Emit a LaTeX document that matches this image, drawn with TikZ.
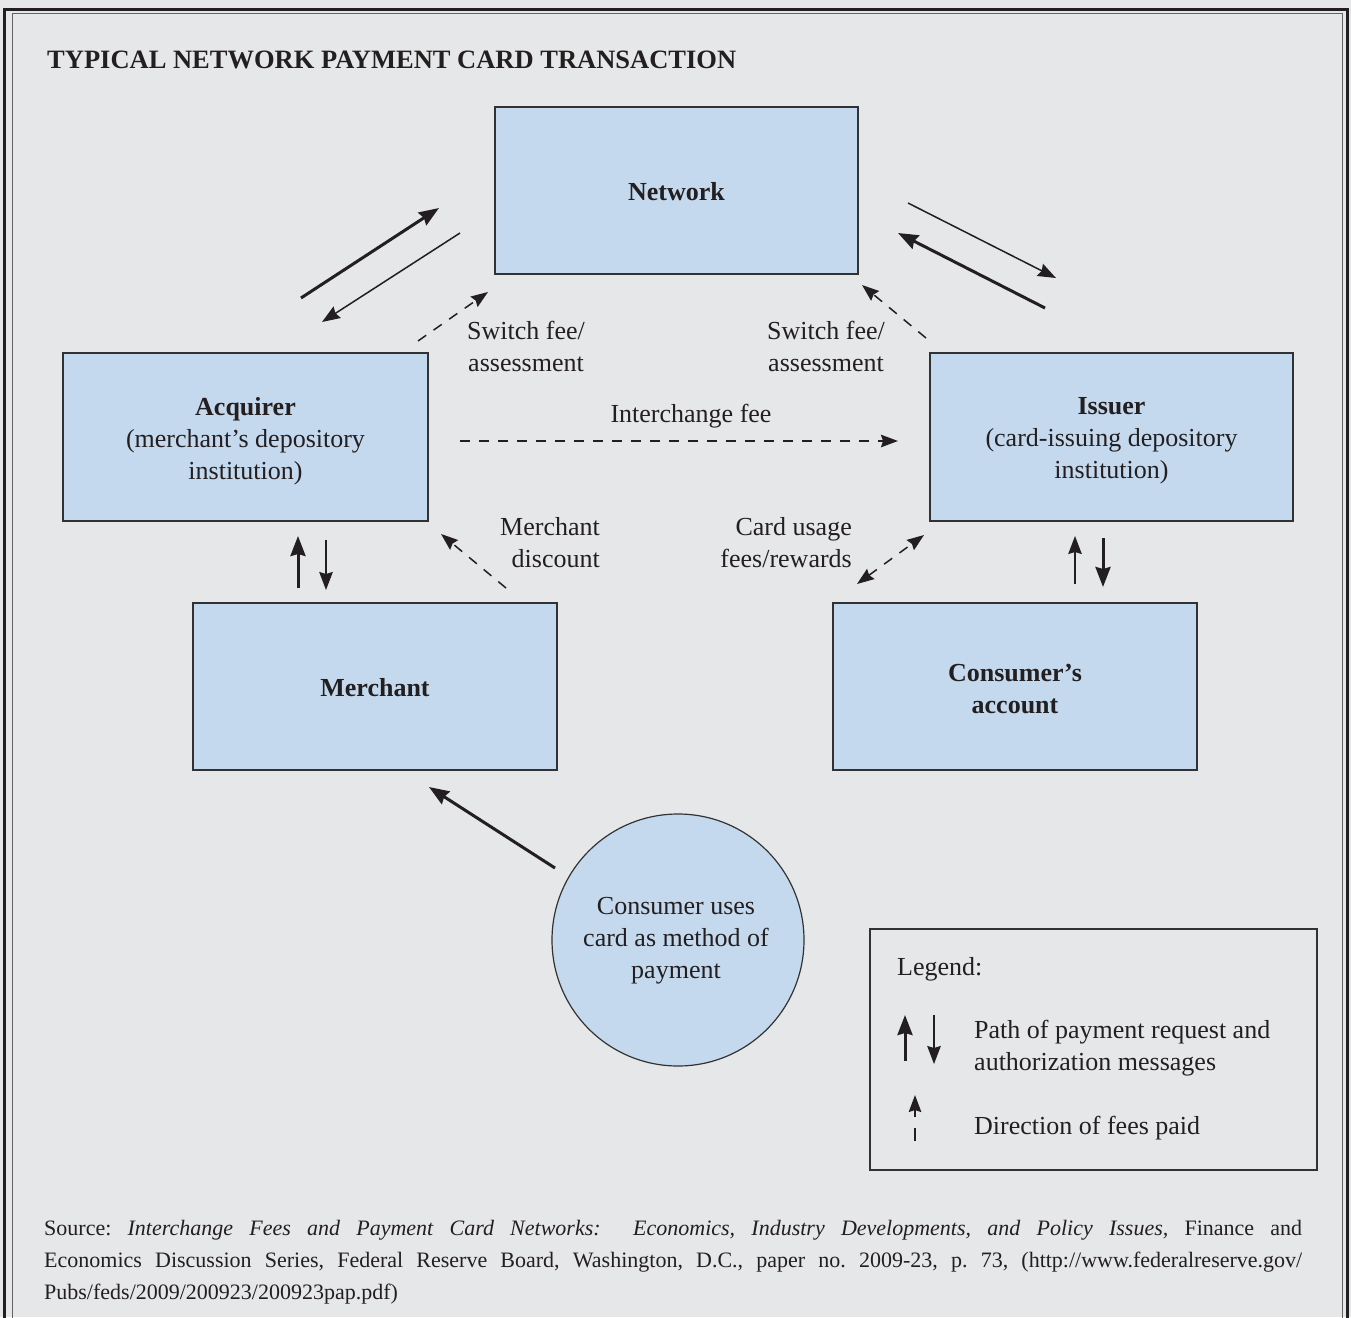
\documentclass[tikz,border=0pt]{standalone}
\usepackage{fontspec}
\setmainfont{Liberation Serif}
\usetikzlibrary{arrows.meta}
\definecolor{bg}{RGB}{230,231,232}
\definecolor{boxblue}{RGB}{197,217,238}
\definecolor{ink}{RGB}{35,31,32}
\definecolor{edge}{RGB}{50,50,52}
\tikzset{
  txt/.style={font=\fontsize{26}{32}\selectfont, text=ink, inner sep=0pt},
  bluebox/.style={draw=edge, line width=1.2pt, fill=boxblue, minimum width=#1, inner sep=0pt},
  thickarr/.style={draw=ink, line width=3pt, -{Stealth[length=20pt,width=15pt,inset=2pt]}},
  thinarr/.style={draw=ink, line width=1.5pt, -{Stealth[length=18pt,width=13.5pt,inset=2pt]}},
  feearr/.style={draw=ink, line width=1.5pt, dash pattern=on 10pt off 9pt, -{Stealth[length=17pt,width=12.5pt,inset=2pt]}},
  feearr2/.style={draw=ink, line width=1.5pt, dash pattern=on 10pt off 9pt, {Stealth[length=17pt,width=12.5pt,inset=2pt]}-{Stealth[length=17pt,width=12.5pt,inset=2pt]}},
}
\begin{document}
\begin{tikzpicture}[x=1pt,y=-1pt]
\frenchspacing
\useasboundingbox (0,0) rectangle (1351,1317);
\fill[bg] (0,0) rectangle (1351,1317);
% frame
\draw[ink, line width=3pt] (4,1320) -- (4,9.5) -- (1347,9.5) -- (1347,1320);
\draw[ink!70, line width=1pt] (12,1320) -- (12,13.5) -- (1342.5,13.5) -- (1342.5,1320);

% title
\node[txt, anchor=west, font=\bfseries\fontsize{26.5}{32}\selectfont] (title) at (47,60) {TYPICAL NETWORK PAYMENT CARD TRANSACTION};

% boxes
\node[bluebox=363pt, minimum height=167pt] (net) at (676.5,190.5) {};
\node[bluebox=365pt, minimum height=168pt] (acq) at (245.5,437) {};
\node[bluebox=363pt, minimum height=168pt] (iss) at (1111.5,437) {};
\node[bluebox=364pt, minimum height=167pt] (mer) at (375,686.5) {};
\node[bluebox=364pt, minimum height=167pt] (con) at (1015,686.5) {};
\node[draw=edge, line width=1.2pt, fill=boxblue, circle, minimum size=252pt, inner sep=0pt] (use) at (678,940) {};

% box texts
\node[txt, font=\bfseries\fontsize{26}{32}\selectfont] (netl) at (676.5,191.5) {Network};
\node[txt, align=center] (acql) at (245.5,441) {\textbf{Acquirer}\\(merchant’s depository\\institution)};
\node[txt, align=center] (issl) at (1111.5,441) {\textbf{Issuer}\\(card-issuing depository\\institution)};
\node[txt, font=\bfseries\fontsize{26}{32}\selectfont] (merl) at (375,687.5) {Merchant};
\node[txt, align=center, font=\bfseries\fontsize{26}{32}\selectfont] (conl) at (1015,689.5) {Consumer’s\\account};
\node[txt, align=center] (usel) at (676,941) {Consumer uses\\card as method of\\payment};

% coordinates for the arrows
\coordinate (a1s) at (301,298); \coordinate (a1e) at (439,208);
\coordinate (a2s) at (460,233); \coordinate (a2e) at (322,322);
\coordinate (f1s) at (418,341); \coordinate (f1e) at (488,292);
\coordinate (b1s) at (908,203); \coordinate (b1e) at (1056,278);
\coordinate (b2s) at (1045,308); \coordinate (b2e) at (898,233);
\coordinate (f2s) at (926,338); \coordinate (f2e) at (862,285);
\coordinate (ics) at (460,441); \coordinate (ice) at (898,441);
\coordinate (m1s) at (298,588); \coordinate (m1e) at (298,536);
\coordinate (m2s) at (326,540); \coordinate (m2e) at (326,590);
\coordinate (mds) at (506,588); \coordinate (mde) at (441,534);
\coordinate (cus) at (857,584); \coordinate (cue) at (924,535);
\coordinate (c1s) at (1075,584); \coordinate (c1e) at (1075,536);
\coordinate (c2s) at (1103,538); \coordinate (c2e) at (1103,587);
\coordinate (ps) at (555,868); \coordinate (pe) at (429,787);

\draw[thickarr] (a1s) -- (a1e);
\draw[thinarr] (a2s) -- (a2e);
\draw[feearr] (f1s) -- (f1e);
\draw[thinarr] (b1s) -- (b1e);
\draw[thickarr] (b2s) -- (b2e);
\draw[feearr] (f2s) -- (f2e);
\draw[feearr] (ics) -- (ice);
\draw[thickarr] (m1s) -- (m1e);
\draw[thinarr] (m2s) -- (m2e);
\draw[feearr] (mds) -- (mde);
\draw[feearr2] (cus) -- (cue);
\draw[thinarr] (c1s) -- (c1e);
\draw[thickarr] (c2s) -- (c2e);
\draw[thickarr] (ps) -- (pe);

% labels
\node[txt, align=center] (sw1) at (526,346) {Switch fee/\\assessment};
\node[txt, align=center] (sw2) at (826,346) {Switch fee/\\assessment};
\node[txt] (icl) at (691,416) {Interchange fee};
\node[txt, align=right, anchor=east] (mdl) at (600,543) {Merchant\\discount};
\node[txt, align=right, anchor=east] (cul) at (852,543) {Card usage\\fees/rewards};

% legend
\node[draw=edge, line width=1.2pt, minimum width=447pt, minimum height=241pt, inner sep=0pt] (leg) at (1093.5,1049.5) {};
\node[txt, anchor=west] (legt) at (897,969) {Legend:};
\coordinate (l1s) at (905,1061); \coordinate (l1e) at (905,1015);
\coordinate (l2s) at (934,1015); \coordinate (l2e) at (934,1064);
\coordinate (l3s) at (915,1141); \coordinate (l3e) at (915,1095);
\draw[thickarr] (l1s) -- (l1e);
\draw[thinarr] (l2s) -- (l2e);
\draw[draw=ink, line width=1.5pt, dash pattern=on 13pt off 11pt, -{Stealth[length=17pt,width=12.5pt,inset=2pt]}] (l3s) -- (l3e);
\node[txt, anchor=west, align=left] (lp) at (974,1048) {Path of payment request and\\authorization messages};
\node[txt, anchor=west] (ld) at (974,1128) {Direction of fees paid};

% source
\node[txt, anchor=north west, text width=1258pt, align=justify, font=\fontsize{22}{32}\selectfont] (src) at (44,1220)
{Source: \textit{Interchange Fees and Payment Card Networks:\ \ Economics, Industry Developments, and Policy Issues,} Finance and\linebreak Economics Discussion Series, Federal Reserve Board, Washington, D.C., paper no. 2009-23, p. 73, (http://www.federalreserve.gov/\linebreak Pubs/feds/2009/200923/200923pap.pdf)};
\end{tikzpicture}
\end{document}
